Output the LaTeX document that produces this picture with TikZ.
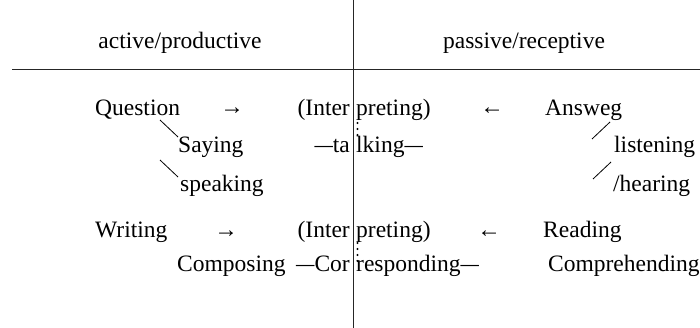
\documentclass[tikz,border=0pt]{standalone}
\usepackage{fontspec}
\setmainfont{Liberation Serif}
\newcommand{\shdash}{\scalebox{0.78}[1]{—}}
\begin{document}
\begin{tikzpicture}[x=1pt,y=-1pt,
  every node/.style={inner sep=0pt, font=\fontsize{23.5}{28}\selectfont},
  lbl/.style={anchor=base west},
  rlbl/.style={anchor=base east},
  mid/.style={anchor=base},
  rule/.style={line width=1pt, black!85},
  tick/.style={line width=0.8pt},
  dotmark/.style={fill=black, circle, inner sep=0pt, minimum size=2.2pt}]
\useasboundingbox (0,0) rectangle (700,328);
% headers
\node[mid] (hleft) at (180,49) {active/productive};
\node[mid] (hright) at (524,49) {passive/receptive};
% rules
\coordinate (vt) at (353,0);
\coordinate (vb) at (353,328);
\coordinate (hL) at (12,70);
\coordinate (hR) at (700,70);
\draw[rule] (hL) -- (hR);
% row 1
\node[lbl] (question) at (95,116) {Question};
\node[mid] (ar1) at (232,115) {→};
\node[rlbl] (int1a) at (350,116) {(Inter};
\node[lbl] (int1b) at (356,116) {preting)};
\node[mid] (al1) at (492,115) {←};
\node[lbl] (answeg) at (545,116) {Answeg};
% row 2
\node[lbl] (saying) at (178,153) {Saying};
\node[rlbl] (talk1) at (350,153) {\shdash ta};
\node[lbl] (talk2) at (356,153) {lking\shdash};
\node[lbl] (listening) at (614,153) {listening};
% row 3
\node[lbl] (speaking) at (180,192) {speaking};
\node[lbl] (hearing) at (613,192) {/hearing};
% row 4
\node[lbl] (writing) at (95,238) {Writing};
\node[mid] (ar2) at (226,237) {→};
\node[rlbl] (int2a) at (350,238) {(Inter};
\node[lbl] (int2b) at (356,238) {preting)};
\node[mid] (al2) at (489,237) {←};
\node[lbl] (reading) at (543,238) {Reading};
% row 5
\node[lbl] (composing) at (177,271) {Composing};
\node[rlbl] (corr1) at (350,271) {\shdash Cor};
\node[lbl] (corr2) at (356,271) {responding\shdash};
\node[lbl] (compre) at (548,271) {Comprehending};
% vertical rule on top
\draw[rule] (vt) -- (vb);
% slashes
\coordinate (s1a) at (160,120); \coordinate (s1b) at (178,137);
\coordinate (s2a) at (160,160); \coordinate (s2b) at (178,177);
\coordinate (s3a) at (610,122); \coordinate (s3b) at (592,139);
\coordinate (s4a) at (611,162); \coordinate (s4b) at (593,179);
\draw[tick] (s1a) -- (s1b);
\draw[tick] (s2a) -- (s2b);
\draw[tick] (s3a) -- (s3b);
\draw[tick] (s4a) -- (s4b);
% dots
\node[dotmark] (d1) at (357.5,123) {};
\node[dotmark] (d2) at (357.5,129) {};
\node[dotmark] (d3) at (357.5,135) {};
\node[dotmark] (d4) at (357.5,243) {};
\node[dotmark] (d5) at (357.5,249) {};
\node[dotmark] (d6) at (357.5,255) {};
\node[dotmark] (d7) at (357.5,261) {};
\end{tikzpicture}
\end{document}
